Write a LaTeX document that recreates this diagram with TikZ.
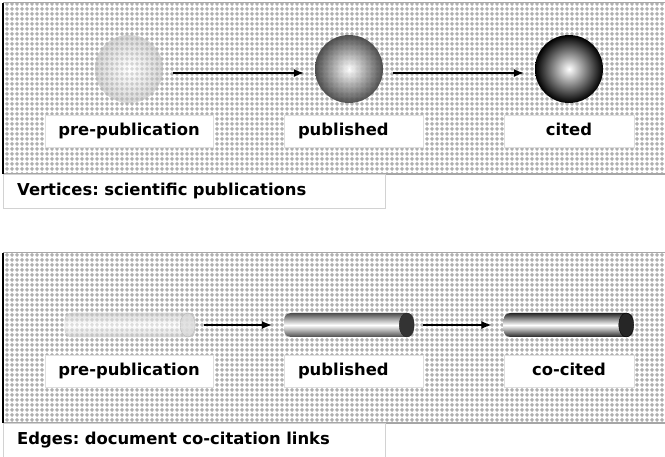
\documentclass[tikz,border=0pt]{standalone}
\usepackage{fontspec}
\setmainfont{DejaVu Sans}
\usetikzlibrary{patterns,arrows.meta,positioning}

% dotted screen behind both panels
\pgfdeclarepatternformonly{greydots}{\pgfqpoint{0pt}{0pt}}{\pgfqpoint{5pt}{5pt}}{\pgfqpoint{5pt}{5pt}}{%
  \pgfpathmoveto{\pgfqpoint{2.5pt}{0.1pt}}
  \pgfpathlineto{\pgfqpoint{4.9pt}{2.5pt}}
  \pgfpathlineto{\pgfqpoint{2.5pt}{4.9pt}}
  \pgfpathlineto{\pgfqpoint{0.1pt}{2.5pt}}
  \pgfpathclose\pgfusepath{fill}}

\tikzset{
  panel/.style={pattern=greydots, pattern color=gray!62},
  tag/.style={draw=gray!25, fill=white, minimum height=32pt, inner xsep=13pt,
    text height=12pt, text depth=3.5pt,
    font=\frenchspacing\bfseries\fontsize{16.4pt}{19pt}\selectfont},
  capbox/.style={draw=gray!35, fill=white, minimum height=34pt, inner xsep=14pt,
    text width=354pt, align=left, anchor=north west,
    font=\frenchspacing\bfseries\fontsize{16.4pt}{19pt}\selectfont},
  flow/.style={-{Latex[length=10pt,width=8pt]}, line width=1.3pt, shorten <=10pt, shorten >=11pt},
  sphere/.style={circle, minimum size=68pt, inner sep=0pt, inner color=white, outer color=#1},
  tube/.style={rectangle, rounded corners=7pt, minimum width=130pt, minimum height=24pt,
    inner sep=0pt, top color=#1, bottom color=#1, middle color=white},
}

\begin{document}
\begin{tikzpicture}[x=1pt,y=1pt]
  \useasboundingbox (0,0) rectangle (665,456);

  % vertices panel
  \fill[white] (3,282) rectangle (665,453);
  \fill[panel] (3,282) rectangle (665,453);
  \draw[gray!70, line width=1pt] (665,453) -- (3,453);
  \draw[gray!70, line width=1.5pt] (3,282) -- (665,282);
  \draw[black, line width=1.5pt] (3,453) -- (3,282);

  \node[sphere=gray!55, fill opacity=.55] (v1) at (129,387) {};
  \node[sphere=gray!50!black, fill opacity=.9] (v2) at (349,387) {};
  \node[sphere=black] (v3) at (569,387) {};

  \draw[flow] ([yshift=-4pt]v1.east) -- ([yshift=-4pt]v2.west);
  \draw[flow] ([yshift=-4pt]v2.east) -- ([yshift=-4pt]v3.west);

  \node[tag, minimum width=168pt] (vt1) at (129,325) {pre-publication};
  \node[tag, text width=111pt, inner xsep=14pt, align=left] (vt2) at (353.5,325) {published};
  \node[tag, minimum width=130pt] (vt3) at (569,325) {cited};

  \node[capbox] (vcap) at (3,282) {Vertices: scientific publications};

  % edges panel
  \fill[white] (3,33) rectangle (665,203);
  \fill[panel] (3,33) rectangle (665,203);
  \draw[gray!70, line width=1pt] (665,203) -- (3,203);
  \draw[gray!70, line width=1.5pt] (3,33) -- (665,33);
  \draw[black, line width=1.5pt] (3,203) -- (3,33);

  \node[tube=gray!45, draw=gray!45, fill opacity=.6] (e1) at (130,131) {};
  \draw[draw=gray!55, fill=gray!30, fill opacity=.7] ([xshift=-7.5pt]e1.east) ellipse [x radius=7.5pt, y radius=12pt];
  \node[tube=gray!60!black] (e2) at (349,131) {};
  \draw[draw=gray!30!black, fill=gray!40!black] ([xshift=-7.5pt]e2.east) ellipse [x radius=7.5pt, y radius=12pt];
  \node[tube=black!85] (e3) at (568.5,131) {};
  \draw[draw=black, fill=black!85] ([xshift=-7.5pt]e3.east) ellipse [x radius=7.5pt, y radius=12pt];

  \draw[flow, shorten <=9pt, shorten >=12pt] (e1) -- (e2);
  \draw[flow, shorten <=9pt, shorten >=12pt] (e2) -- (e3);

  \node[tag, minimum width=168pt] (et1) at (129,85) {pre-publication};
  \node[tag, text width=111pt, inner xsep=14pt, align=left] (et2) at (353.5,85) {published};
  \node[tag, minimum width=130pt] (et3) at (569,85) {co-cited};

  \node[capbox] (ecap) at (3,33) {Edges: document co-citation links};
\end{tikzpicture}
\end{document}
